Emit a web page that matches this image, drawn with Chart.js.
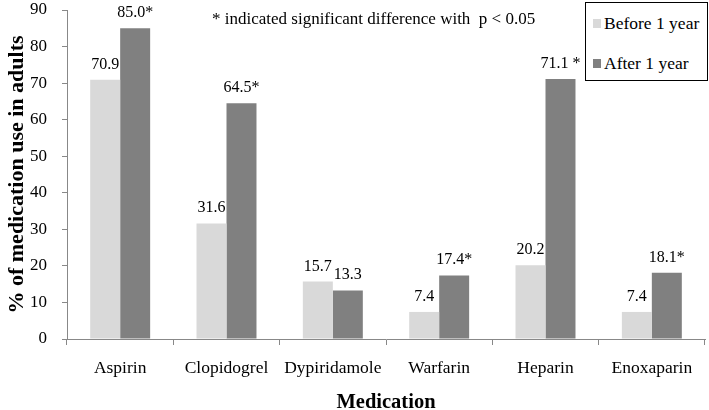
<!DOCTYPE html>
<html>
<head>
<meta charset="utf-8">
<script src="https://cdn.jsdelivr.net/npm/chart.js@4.4.1/dist/chart.umd.min.js"></script>
<style>
  html, body { margin: 0; padding: 0; background: #fff; }
  #wrap { position: relative; width: 709px; height: 410px; }
  #legend { position: absolute; left: 585px; top: 2px; width: 123px; height: 79px; border: 1px solid #000; box-sizing: border-box; background: #fff;
    font-family: "Liberation Serif", "Times New Roman", serif; font-size: 17.5px; color: #000; }
  .li { position: absolute; left: 7px; height: 20px; display: flex; align-items: center; white-space: nowrap; }
  .sw { width: 8px; height: 9px; margin-right: 3px; display: inline-block; }
</style>
</head>
<body>
<div id="wrap">
  <canvas id="c" width="709" height="410"></canvas>
  <div id="legend">
    <div class="li" style="top:10px"><span class="sw" style="background:#d9d9d9"></span>Before 1 year</div>
    <div class="li" style="top:50px"><span class="sw" style="background:#808080"></span>After 1 year</div>
  </div>
</div>
<script>
const categories = ["Aspirin", "Clopidogrel", "Dypiridamole", "Warfarin", "Heparin", "Enoxaparin"];
const beforeValues = [70.9, 31.6, 15.7, 7.4, 20.2, 7.4];
const afterValues = [85.0, 64.5, 13.3, 17.4, 71.1, 18.1];
const beforeLabels = ["70.9", "31.6", "15.7", "7.4", "20.2", "7.4"];
const afterLabels = ["85.0*", "64.5*", "13.3", "17.4*", "71.1 *", "18.1*"];
const seriesNames = ["Before 1 year", "After 1 year"];
const noteText = "* indicated significant difference with  p < 0.05";

const SERIF = '"Liberation Serif", "Times New Roman", serif';

const labelPlugin = {
  id: 'barLabels',
  afterDatasetsDraw(chart) {
    const ctx = chart.ctx;
    ctx.save();
    ctx.font = '16px ' + SERIF;
    ctx.fillStyle = '#000';
    ctx.textAlign = 'center';
    ctx.textBaseline = 'alphabetic';
    const labelSets = [beforeLabels, afterLabels];
    chart.data.datasets.forEach((ds, di) => {
      const meta = chart.getDatasetMeta(di);
      meta.data.forEach((el, i) => {
        ctx.fillText(labelSets[di][i], el.x, el.y - 11);
      });
    });
    ctx.font = '17px ' + SERIF;
    ctx.textAlign = 'left';
    ctx.textBaseline = 'middle';
    ctx.fillText(noteText, 212, 20);
    ctx.restore();
  }
};

new Chart(document.getElementById('c'), {
  type: 'bar',
  data: {
    labels: categories,
    datasets: [
      { label: seriesNames[0], data: beforeValues, backgroundColor: '#d9d9d9', barPercentage: 1.0, categoryPercentage: 0.564 },
      { label: seriesNames[1], data: afterValues, backgroundColor: '#808080', barPercentage: 1.0, categoryPercentage: 0.564 }
    ]
  },
  options: {
    responsive: false,
    animation: false,
    layout: { padding: { top: 0, right: 4, left: 0, bottom: 0 } },
    plugins: { legend: { display: false }, tooltip: { enabled: false } },
    scales: {
      x: {
        offset: true,
        grid: { display: true, drawOnChartArea: false, offset: true, tickLength: 6, color: '#888' },
        border: { color: '#888' },
        ticks: { color: '#000', font: { family: SERIF, size: 17.5 }, padding: 13 },
        title: { display: true, text: 'Medication', color: '#000', font: { family: SERIF, size: 20.5, weight: 'bold', lineHeight: 0.35 }, padding: { top: 10 } },
        afterFit(s) { s.height = 71; }
      },
      y: {
        min: 0, max: 90,
        ticks: { stepSize: 10, color: '#000', font: { family: SERIF, size: 17 }, padding: 15 },
        grid: { display: true, drawOnChartArea: false, tickLength: 5, color: '#888' },
        border: { color: '#888' },
        title: { display: true, text: '% of medication use in adults', color: '#000', font: { family: SERIF, size: 22, weight: 'bold' }, padding: { bottom: 6 } },
        afterFit(s) { s.width = 67; s.paddingTop = 10; s.paddingBottom = 0; }
      }
    }
  },
  plugins: [labelPlugin]
});
</script>
</body>
</html>
